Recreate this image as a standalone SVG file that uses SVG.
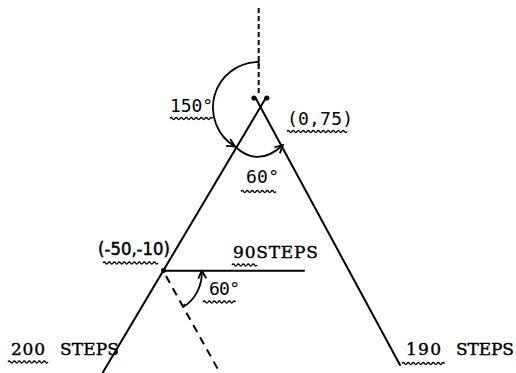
<svg xmlns="http://www.w3.org/2000/svg" width="516" height="373" viewBox="0 0 516 373">
<style>
.ln{stroke:#000;stroke-width:2;fill:none;stroke-linecap:round}
.dv{stroke:#000;stroke-width:2;fill:none;stroke-dasharray:5 3}
.dd{stroke:#000;stroke-width:2;fill:none;stroke-dasharray:8 6}
.arc{stroke:#000;stroke-width:1.8;fill:none}
.wv{stroke:#000;stroke-width:1.4;fill:none}
.num{font-family:"DejaVu Sans Mono","Liberation Mono",monospace;font-size:18px;fill:#000}
.tw{font-family:"DejaVu Serif","Liberation Serif",serif;font-size:17px;fill:#000;stroke:#000;stroke-width:0.4}
.hw{font-family:"DejaVu Sans","Liberation Sans",sans-serif;font-size:17px;fill:#000;stroke:#000;stroke-width:0.5}
</style>
<defs>
<marker id="ah" viewBox="0 0 10 10" refX="9" refY="5" markerWidth="10" markerHeight="10" markerUnits="userSpaceOnUse" orient="auto">
<path d="M1,1 L9,5 L1,9" fill="none" stroke="#000" stroke-width="1.8"/>
</marker>
</defs>
<g id="connectors">
<line class="dv" x1="258.7" y1="8" x2="258.7" y2="95"/>
<line class="ln" x1="255.6" y1="98" x2="400" y2="365"/>
<line class="ln" x1="265.8" y1="98" x2="102.5" y2="373"/>
<line class="ln" x1="163" y1="270.7" x2="304" y2="270.7"/>
<line class="dd" x1="166" y1="276" x2="220" y2="373"/>
<path class="arc" d="M258.7,66 L258.7,62 A45.5,45.5 0 0 0 235,146.5" marker-end="url(#ah)"/>
<path class="arc" d="M235,146.5 Q258,168 283,145" marker-end="url(#ah)"/>
<path class="arc" d="M185,304 L182.7,307.3 A40,40 0 0 0 201.7,270.5" marker-end="url(#ah)"/>
</g>
<g id="apex">
<circle cx="254" cy="98" r="2.6"/>
<circle cx="266.8" cy="98" r="2.6"/>
</g>
<g id="point">
<circle cx="163.5" cy="270.5" r="2.5"/>
</g>
<g id="labels">
<text class="num" x="170" y="111.7" textLength="43">150°</text>
<path class="wv" d="M170,118.5 q1.25,-2 2.5,0 t2.5,0 t2.5,0 t2.5,0 t2.5,0 t2.5,0 t2.5,0 t2.5,0 t2.5,0 t2.5,0 t2.5,0 t2.5,0 t2.5,0 t2.5,0 t2.5,0 t2.5,0 t2.5,0"/>
<text class="num" x="287" y="125" textLength="66">(0,75)</text>
<path class="wv" d="M287,131.5 q1.25,-2 2.5,0 t2.5,0 t2.5,0 t2.5,0 t2.5,0 t2.5,0 t2.5,0 t2.5,0 t2.5,0 t2.5,0 t2.5,0 t2.5,0 t2.5,0 t2.5,0 t2.5,0 t2.5,0 t2.5,0 t2.5,0 t2.5,0 t2.5,0 t2.5,0 t2.5,0 t2.5,0 t2.5,0"/>
<text class="num" x="246" y="183.3" textLength="33">60°</text>
<path class="wv" d="M241,191.5 q1.25,-2 2.5,0 t2.5,0 t2.5,0 t2.5,0 t2.5,0 t2.5,0 t2.5,0 t2.5,0 t2.5,0 t2.5,0 t2.5,0 t2.5,0 t2.5,0 t2.5,0"/>
<text class="hw" x="98" y="255" textLength="72" lengthAdjust="spacingAndGlyphs">(-50,-10)</text>
<path class="wv" d="M103,263 q1.25,-2 2.5,0 t2.5,0 t2.5,0 t2.5,0 t2.5,0 t2.5,0 t2.5,0 t2.5,0 t2.5,0 t2.5,0 t2.5,0 t2.5,0 t2.5,0 t2.5,0 t2.5,0 t2.5,0 t2.5,0 t2.5,0 t2.5,0 t2.5,0 t2.5,0 t2.5,0"/>
<text class="tw" x="233" y="258.3" textLength="85">90STEPS</text>
<path class="wv" d="M232,265 q1.25,-2 2.5,0 t2.5,0 t2.5,0 t2.5,0 t2.5,0 t2.5,0 t2.5,0 t2.5,0 t2.5,0 t2.5,0"/>
<text class="num" x="209" y="295" textLength="31">60°</text>
<path class="wv" d="M203,302 q1.25,-2 2.5,0 t2.5,0 t2.5,0 t2.5,0 t2.5,0 t2.5,0 t2.5,0 t2.5,0 t2.5,0 t2.5,0 t2.5,0 t2.5,0 t2.5,0"/>
<text class="tw" y="355"><tspan x="11" textLength="34">200</tspan> <tspan x="60" textLength="59">STEPS</tspan></text>
<path class="wv" d="M8,362 q1.25,-2 2.5,0 t2.5,0 t2.5,0 t2.5,0 t2.5,0 t2.5,0 t2.5,0 t2.5,0 t2.5,0 t2.5,0 t2.5,0 t2.5,0 t2.5,0 t2.5,0 t2.5,0 t2.5,0"/>
<text class="tw" y="355"><tspan x="406" textLength="35">190</tspan> <tspan x="456" textLength="58">STEPS</tspan></text>
<path class="wv" d="M402,363.5 q1.25,-2 2.5,0 t2.5,0 t2.5,0 t2.5,0 t2.5,0 t2.5,0 t2.5,0 t2.5,0 t2.5,0 t2.5,0 t2.5,0 t2.5,0 t2.5,0 t2.5,0 t2.5,0 t2.5,0 t2.5,0"/>
</g>
</svg>
